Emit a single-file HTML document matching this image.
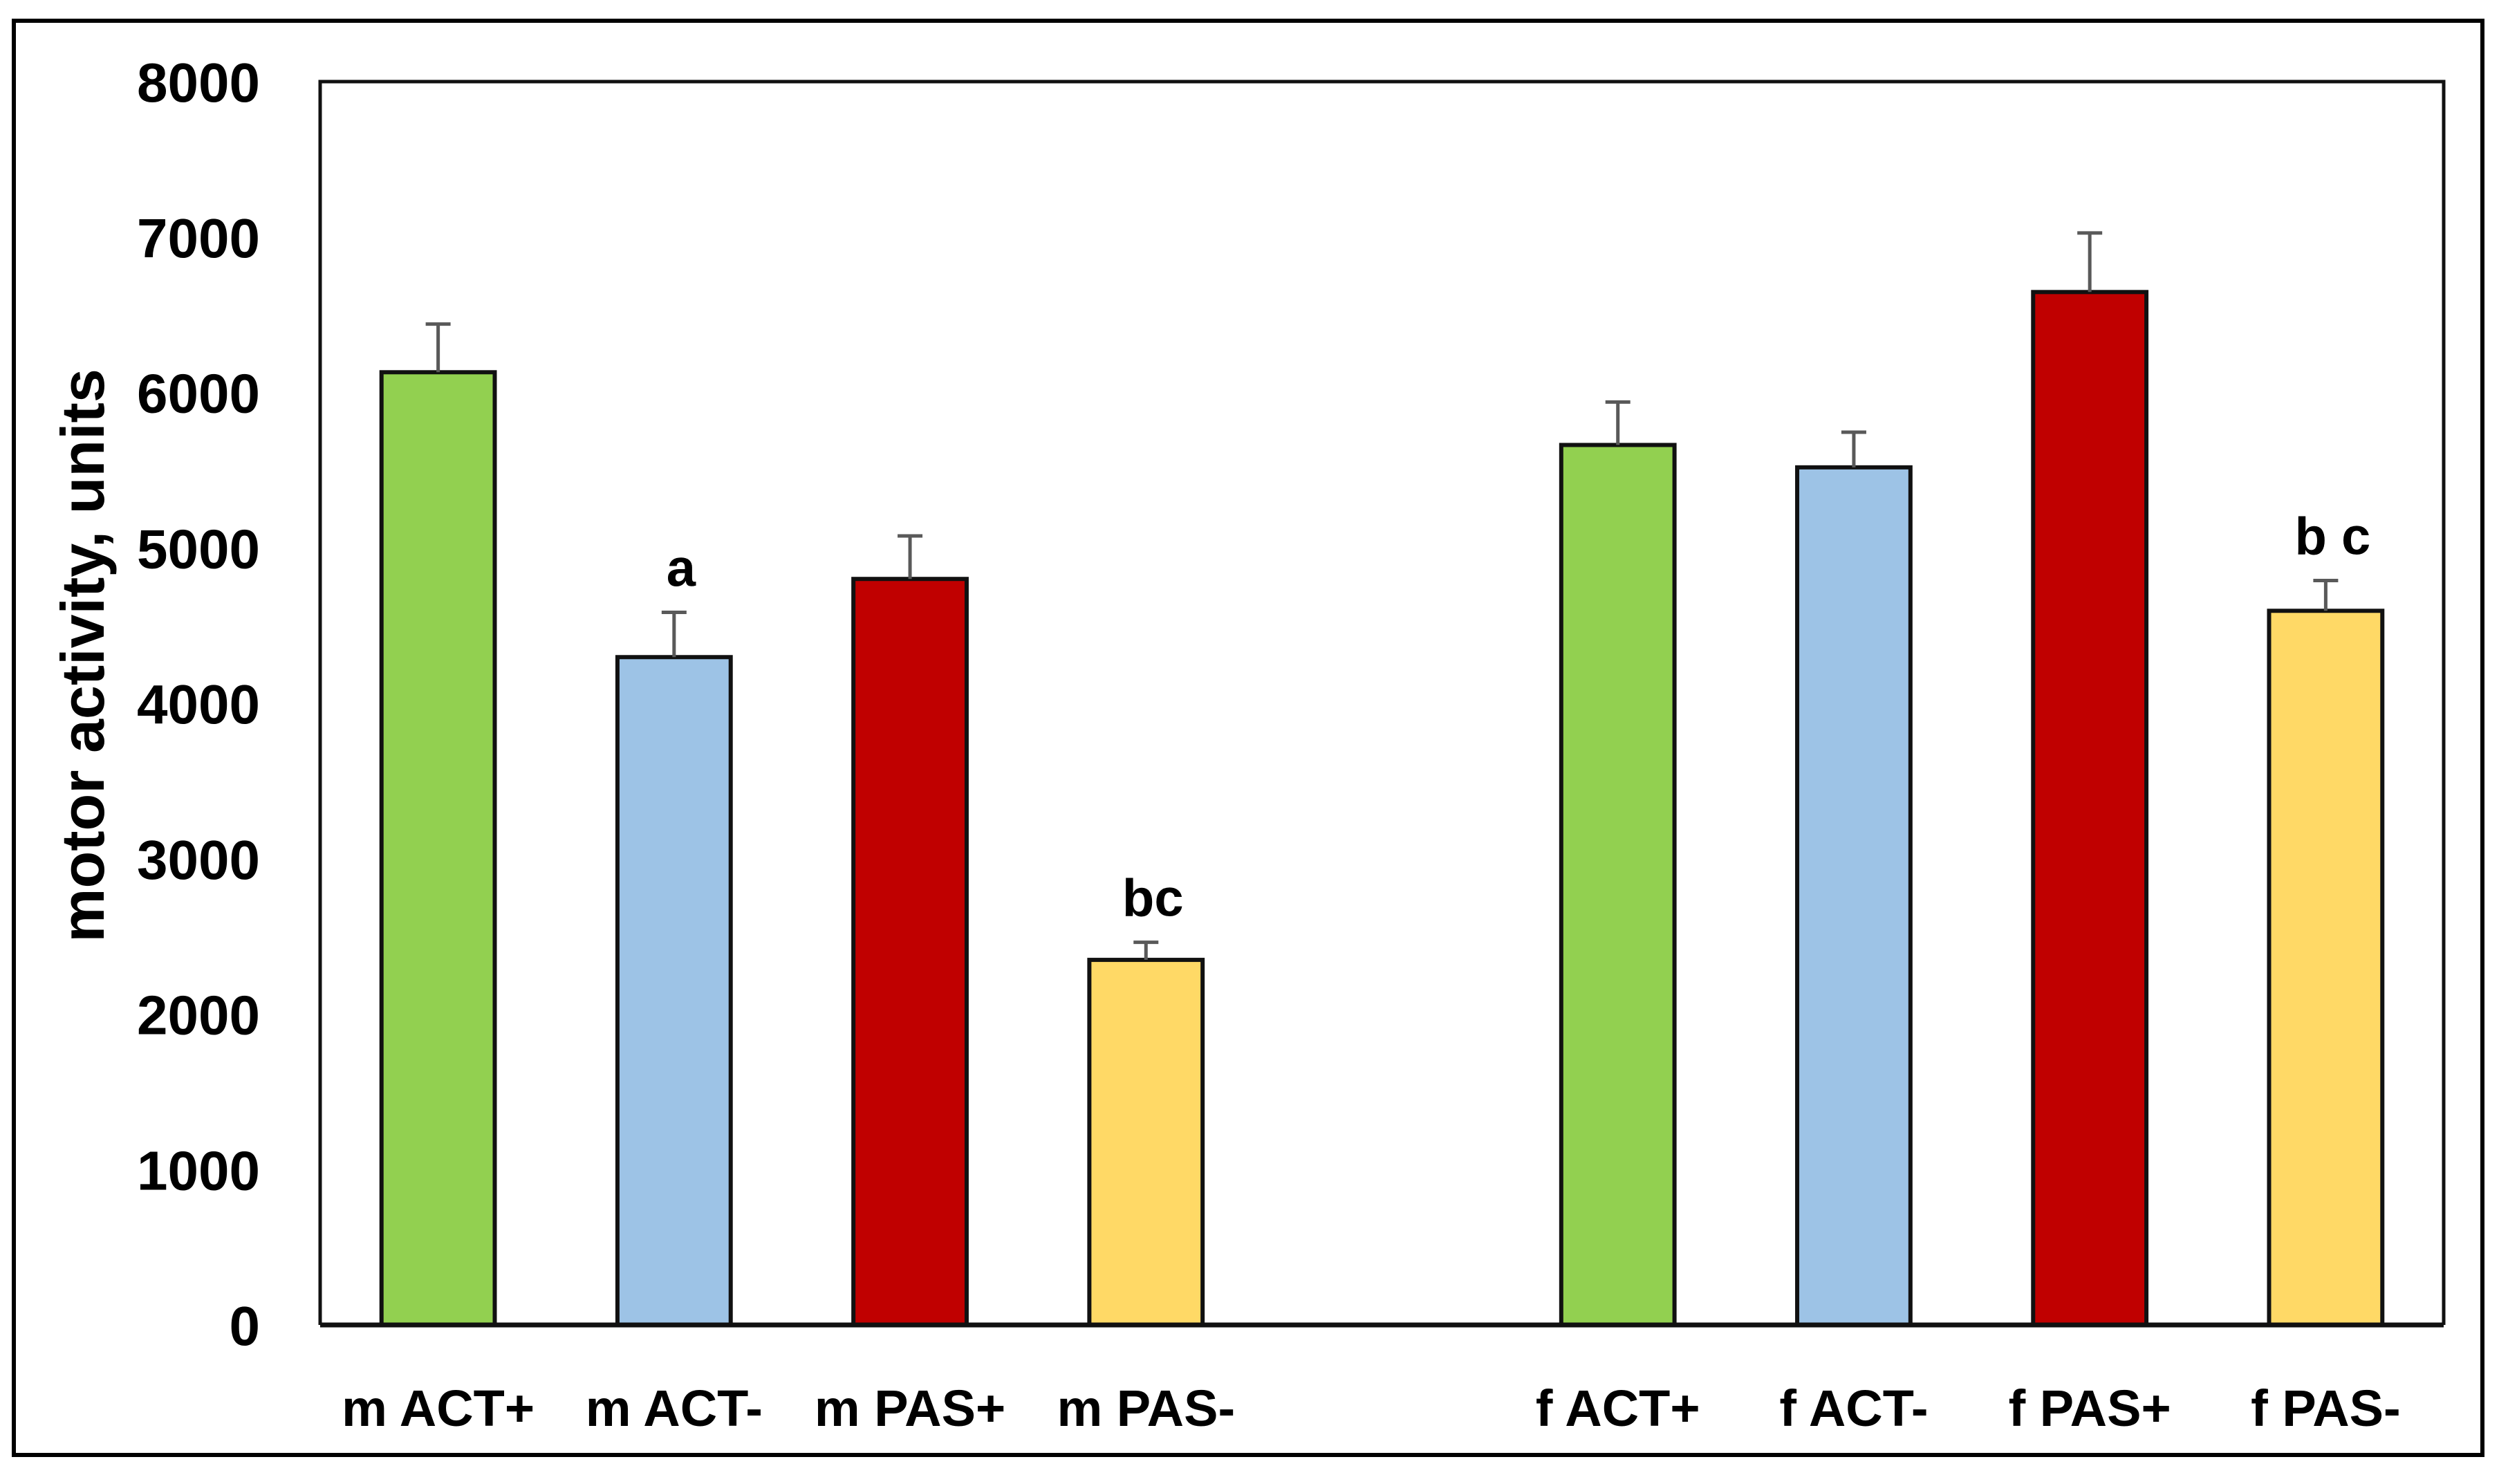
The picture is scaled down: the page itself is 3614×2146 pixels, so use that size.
<!DOCTYPE html>
<html><head><meta charset="utf-8"><style>
html,body{margin:0;padding:0;background:#fff}
svg{display:block}
text{font-family:"Liberation Sans",sans-serif;font-weight:bold;fill:#000}
</style></head><body>
<svg id="chart" width="3614" height="2146" viewBox="0 0 3614 2146" xmlns="http://www.w3.org/2000/svg">
<rect x="20" y="30" width="3570" height="2074" fill="#fff" stroke="#000" stroke-width="6"/>
<text transform="translate(150,948) rotate(-90)" text-anchor="middle" font-size="88">motor activity, units</text>
</svg>
<script>
const categories = ["m ACT+","m ACT-","m PAS+","m PAS-","","f ACT+","f ACT-","f PAS+","f PAS-"];
const values = [6130,4297,4800,2349,null,5662,5518,6646,4595];
const errors = [310,288,277,113,null,276,226,380,195];
const annotations = ["","a","","bc","","","","","b c"];
const colors = ["#92D050","#9DC3E6","#C00000","#FFD966",null,"#92D050","#9DC3E6","#C00000","#FFD966"];
const yTicks = [0,1000,2000,3000,4000,5000,6000,7000,8000];

const NS="http://www.w3.org/2000/svg";
const svg=document.getElementById('chart');
const L=463,R=3534,T=118,B=1916,yMax=8000;
const slot=(R-L)/categories.length;
const y=v=>B-(v/yMax)*(B-T);
const x=i=>L+slot*(i+0.5);
function mk(tag,attrs,parent){const e=document.createElementNS(NS,tag);for(const k in attrs)e.setAttribute(k,attrs[k]);(parent||svg).appendChild(e);return e;}

yTicks.forEach(t=>{
  const e=mk('text',{x:376,y:y(t)+29,'text-anchor':'end','font-size':'80'});
  
  
  e.textContent=t;
});
const bw=slot*0.48;
categories.forEach((c,i)=>{
  if(values[i]==null)return;
  const bar=mk('rect',{x:x(i)-bw/2,y:y(values[i]),width:bw,height:B-y(values[i]),fill:colors[i],stroke:'#111',"stroke-width":6});
  
  
  const top=y(values[i]+errors[i]);
  const eb=mk('path',{d:`M${x(i)} ${y(values[i])}V${top}M${x(i)-18} ${top}H${x(i)+18}`,stroke:'#595959','stroke-width':5,fill:'none'});
  
  
  if(annotations[i]){
    const a=mk('text',{x:x(i)+10,y:top-38,'text-anchor':'middle','font-size':'76'});
    
    
    a.textContent=annotations[i];
  }
  const lb=mk('text',{x:x(i),y:2062,'text-anchor':'middle','font-size':'74'});
  
  
  lb.textContent=c;
});
const frame=mk('path',{d:`M${L} ${B}V${T}H${R}V${B}`,fill:'none',stroke:'#111','stroke-width':5});


const ax=mk('line',{x1:L,y1:B,x2:R,y2:B,stroke:'#111','stroke-width':7});


</script>
</body></html>
